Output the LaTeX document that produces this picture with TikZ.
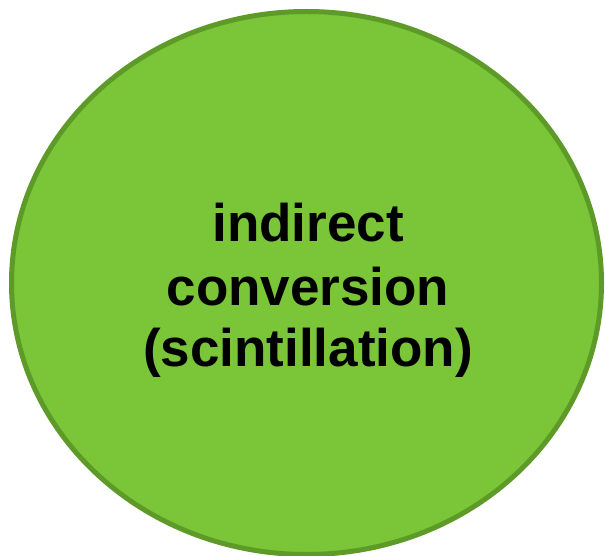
\documentclass[tikz,border=0pt]{standalone}
\usepackage{fontspec}
\setmainfont{Liberation Sans}
\usetikzlibrary{shapes.geometric}
\definecolor{fillgreen}{RGB}{122,197,56}
\definecolor{edgegreen}{RGB}{94,154,40}
\tikzset{
  blob/.style={ellipse, draw=edgegreen, fill=fillgreen, line width=5pt, inner sep=0pt},
  label/.style={font=\fontsize{53}{63}\selectfont\bfseries, text=black, anchor=base, inner sep=0pt}
}
\begin{document}
\begin{tikzpicture}[x=1pt,y=-1pt]
\useasboundingbox (0,0) rectangle (605,556);
\node[blob, minimum width=590pt, minimum height=543pt] (circ) at (306.5,283) {};
\node[label] (l1) at (308,241.7) {indirect};
\node[label] (l2) at (308,305) {conversion};
\node[label] (l3) at (308,366.7) {(scintillation)};
\end{tikzpicture}
\end{document}
